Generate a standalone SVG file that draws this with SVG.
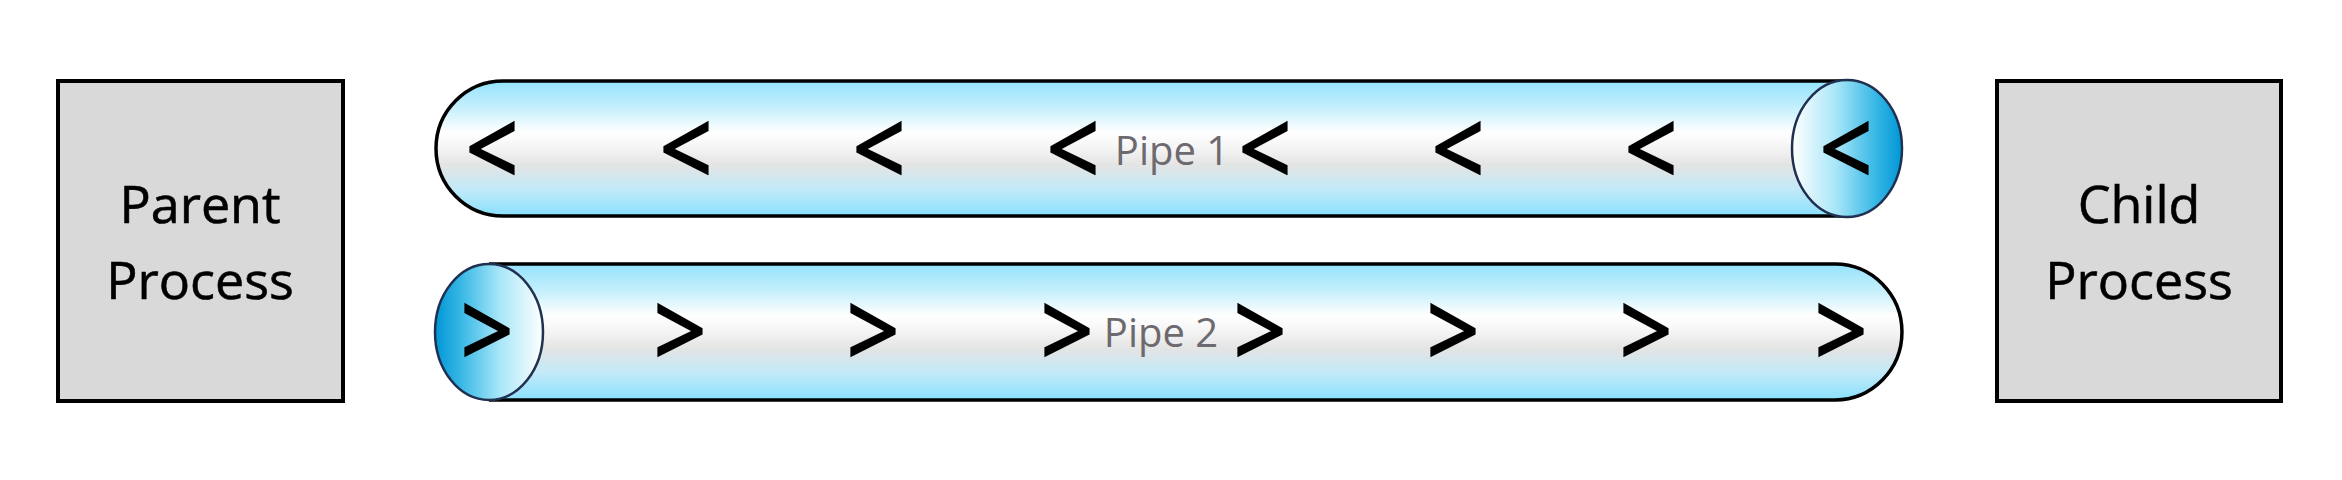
<svg xmlns="http://www.w3.org/2000/svg" width="2342" height="480" viewBox="0 0 2342 480">
<style>
.box{fill:#d9d9d9;stroke:#000;stroke-width:4}
.boxtxt{font-family:"Open Sans","Liberation Sans",sans-serif;font-size:52px;fill:#000;stroke:#000;stroke-width:0.6;text-anchor:middle}
.pipe{stroke:#000;stroke-width:3.5}
.cap{stroke:#1f3050;stroke-width:2.5}
.chev{font-family:"Open Sans","Liberation Sans",sans-serif;font-size:92px;fill:#000;stroke:#000;stroke-width:2;text-anchor:middle}
.ptxt{font-family:"Open Sans","Liberation Sans",sans-serif;font-size:40px;fill:#6d6a6f;text-anchor:middle}
</style>
<defs>
<linearGradient id="body" x1="0" y1="0" x2="0" y2="1">
<stop offset="0" stop-color="#94e3fd"/>
<stop offset="0.2" stop-color="#c6effc"/>
<stop offset="0.38" stop-color="#ffffff"/>
<stop offset="0.5" stop-color="#f4f4f4"/>
<stop offset="0.62" stop-color="#e4e4e4"/>
<stop offset="0.8" stop-color="#c2eaf8"/>
<stop offset="1" stop-color="#8adffd"/>
</linearGradient>
<linearGradient id="capR" x1="0" y1="0" x2="1" y2="0">
<stop offset="0" stop-color="#ffffff"/>
<stop offset="0.4" stop-color="#a8e6f8"/>
<stop offset="0.75" stop-color="#3ab9e6"/>
<stop offset="1" stop-color="#0096d6"/>
</linearGradient>
<linearGradient id="capL" x1="1" y1="0" x2="0" y2="0">
<stop offset="0" stop-color="#ffffff"/>
<stop offset="0.4" stop-color="#a8e6f8"/>
<stop offset="0.75" stop-color="#3ab9e6"/>
<stop offset="1" stop-color="#0096d6"/>
</linearGradient>
</defs>

<g id="parent">
<rect class="box" x="58" y="81" width="285" height="320"/>
<text class="boxtxt" x="200" y="223">Parent</text>
<text class="boxtxt" x="200" y="299">Process</text>
</g>

<g id="child">
<rect class="box" x="1997" y="81" width="284" height="320"/>
<text class="boxtxt" x="2139" y="223">Child</text>
<text class="boxtxt" x="2139" y="299">Process</text>
</g>

<g id="pipe1">
<path d="M1848,81 H503 A67,67.5 0 0 0 503,216 H1848 Z" fill="url(#body)" stroke="none"/>
<path class="pipe" d="M1848,81 H503 A67,67.5 0 0 0 503,216 H1848" fill="none"/>
<ellipse class="cap" cx="1847" cy="148.5" rx="55" ry="68.5" fill="url(#capR)"/>
<text class="chev" transform="translate(492,186) scale(1,1.14)">&lt;</text>
<text class="chev" transform="translate(686,186) scale(1,1.14)">&lt;</text>
<text class="chev" transform="translate(879,186) scale(1,1.14)">&lt;</text>
<text class="chev" transform="translate(1073,186) scale(1,1.14)">&lt;</text>
<text class="chev" transform="translate(1265,186) scale(1,1.14)">&lt;</text>
<text class="chev" transform="translate(1458,186) scale(1,1.14)">&lt;</text>
<text class="chev" transform="translate(1651,186) scale(1,1.14)">&lt;</text>
<text class="chev" transform="translate(1846,186) scale(1,1.14)">&lt;</text>
<text class="ptxt" x="1172" y="165">Pipe 1</text>
</g>

<g id="pipe2">
<path d="M489,264 H1835 A67,68 0 0 1 1835,400 H489 Z" fill="url(#body)" stroke="none"/>
<path class="pipe" d="M489,264 H1835 A67,68 0 0 1 1835,400 H489" fill="none"/>
<ellipse class="cap" cx="489" cy="332" rx="54" ry="68" fill="url(#capL)"/>
<text class="chev" transform="translate(487,368) scale(1,1.14)">&gt;</text>
<text class="chev" transform="translate(680,368) scale(1,1.14)">&gt;</text>
<text class="chev" transform="translate(873,368) scale(1,1.14)">&gt;</text>
<text class="chev" transform="translate(1067,368) scale(1,1.14)">&gt;</text>
<text class="chev" transform="translate(1260,368) scale(1,1.14)">&gt;</text>
<text class="chev" transform="translate(1453,368) scale(1,1.14)">&gt;</text>
<text class="chev" transform="translate(1646,368) scale(1,1.14)">&gt;</text>
<text class="chev" transform="translate(1841,368) scale(1,1.14)">&gt;</text>
<text class="ptxt" x="1161" y="347">Pipe 2</text>
</g>

<g id="connectors"></g>
</svg>
